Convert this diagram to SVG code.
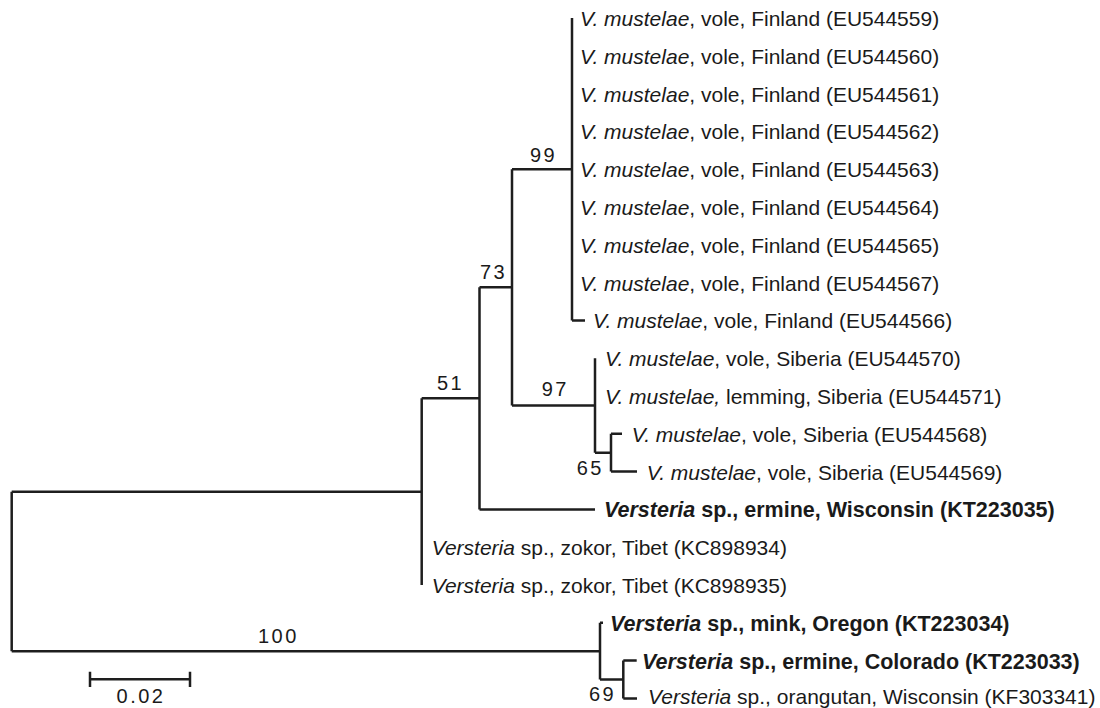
<svg xmlns="http://www.w3.org/2000/svg" width="1100" height="708" viewBox="0 0 1100 708">
<style>
.br{fill:none;stroke:#1e1e1e;stroke-width:2.5;stroke-linecap:butt;stroke-linejoin:miter}
.lf{font-family:"Liberation Sans",Arial,sans-serif;font-size:21px;fill:#1a1a1a}
.b{font-weight:bold;font-size:21.5px}
.i{font-style:italic}
.bs{font-family:"Liberation Sans",Arial,sans-serif;font-size:20px;fill:#1a1a1a;letter-spacing:2.5px}
</style>
<rect width="1100" height="708" fill="#ffffff"/>
<g id="connectors">
<path class="br" d="M11.7,491.7V651.15M11.7,491.7H421.7M11.7,651.15H600"/>
<path class="br" d="M421.7,398.35V585M421.7,398.35H479.5"/>
<path class="br" d="M479.5,287.3V509.4M479.5,287.3H512M479.5,509.4H595"/>
<path class="br" d="M512,169.2V405.45M512,169.2H572M512,405.45H595"/>
<path class="br" d="M572,18V320.4M572,320.4H585"/>
<path class="br" d="M595,358.2V452.7M595,452.7H611"/>
<path class="br" d="M611,433.8V471.6M611,433.8H622M611,471.6H637"/>
<path class="br" d="M600,622.8V679.5M600,622.8H603M600,679.5H623.3"/>
<path class="br" d="M623.3,660.6V698.4M623.3,660.6H636.7M623.3,698.4H637"/>
</g>
<g id="bootstrap">
<text class="bs" x="530" y="162">99</text>
<text class="bs" x="480" y="279">73</text>
<text class="bs" x="541.7" y="396">97</text>
<text class="bs" x="437" y="390">51</text>
<text class="bs" x="576.7" y="475">65</text>
<text class="bs" x="258" y="643">100</text>
<text class="bs" x="589" y="701">69</text>
</g>
<g id="leaf-EU544559"><text class="lf" x="580" y="26"><tspan class="i">V. mustelae</tspan>, vole, Finland (EU544559)</text></g>
<g id="leaf-EU544560"><text class="lf" x="580" y="63.8"><tspan class="i">V. mustelae</tspan>, vole, Finland (EU544560)</text></g>
<g id="leaf-EU544561"><text class="lf" x="580" y="101.6"><tspan class="i">V. mustelae</tspan>, vole, Finland (EU544561)</text></g>
<g id="leaf-EU544562"><text class="lf" x="580" y="139.4"><tspan class="i">V. mustelae</tspan>, vole, Finland (EU544562)</text></g>
<g id="leaf-EU544563"><text class="lf" x="580" y="177.2"><tspan class="i">V. mustelae</tspan>, vole, Finland (EU544563)</text></g>
<g id="leaf-EU544564"><text class="lf" x="580" y="215"><tspan class="i">V. mustelae</tspan>, vole, Finland (EU544564)</text></g>
<g id="leaf-EU544565"><text class="lf" x="580" y="252.8"><tspan class="i">V. mustelae</tspan>, vole, Finland (EU544565)</text></g>
<g id="leaf-EU544567"><text class="lf" x="580" y="290.6"><tspan class="i">V. mustelae</tspan>, vole, Finland (EU544567)</text></g>
<g id="leaf-EU544566"><text class="lf" x="593" y="328.4"><tspan class="i">V. mustelae</tspan>, vole, Finland (EU544566)</text></g>
<g id="leaf-EU544570"><text class="lf" x="605" y="366.2"><tspan class="i">V. mustelae</tspan>, vole, Siberia (EU544570)</text></g>
<g id="leaf-EU544571"><text class="lf" x="605" y="404"><tspan class="i">V. mustelae,</tspan> lemming, Siberia (EU544571)</text></g>
<g id="leaf-EU544568"><text class="lf" x="631.7" y="441.8"><tspan class="i">V. mustelae</tspan>, vole, Siberia (EU544568)</text></g>
<g id="leaf-EU544569"><text class="lf" x="646.7" y="479.6"><tspan class="i">V. mustelae</tspan>, vole, Siberia (EU544569)</text></g>
<g id="leaf-KT223035"><text class="lf b" x="604" y="517.4"><tspan class="i">Versteria</tspan> sp., ermine, Wisconsin (KT223035)</text></g>
<g id="leaf-KC898934"><text class="lf" x="431.7" y="555.2"><tspan class="i">Versteria</tspan> sp., zokor, Tibet (KC898934)</text></g>
<g id="leaf-KC898935"><text class="lf" x="431.7" y="593"><tspan class="i">Versteria</tspan> sp., zokor, Tibet (KC898935)</text></g>
<g id="leaf-KT223034"><text class="lf b" x="610" y="630.8"><tspan class="i">Versteria</tspan> sp., mink, Oregon (KT223034)</text></g>
<g id="leaf-KT223033"><text class="lf b" x="642" y="668.6"><tspan class="i">Versteria</tspan> sp., ermine, Colorado (KT223033)</text></g>
<g id="leaf-KF303341"><text class="lf" x="648" y="704"><tspan class="i">Versteria</tspan> sp., orangutan, Wisconsin (KF303341)</text></g>
<g id="scalebar">
<path class="br" d="M90,679.3H190M90,671.7V686.9M190,671.7V686.9"/>
<text class="bs" x="141" y="702.7" text-anchor="middle">0.02</text>
</g>
</svg>
